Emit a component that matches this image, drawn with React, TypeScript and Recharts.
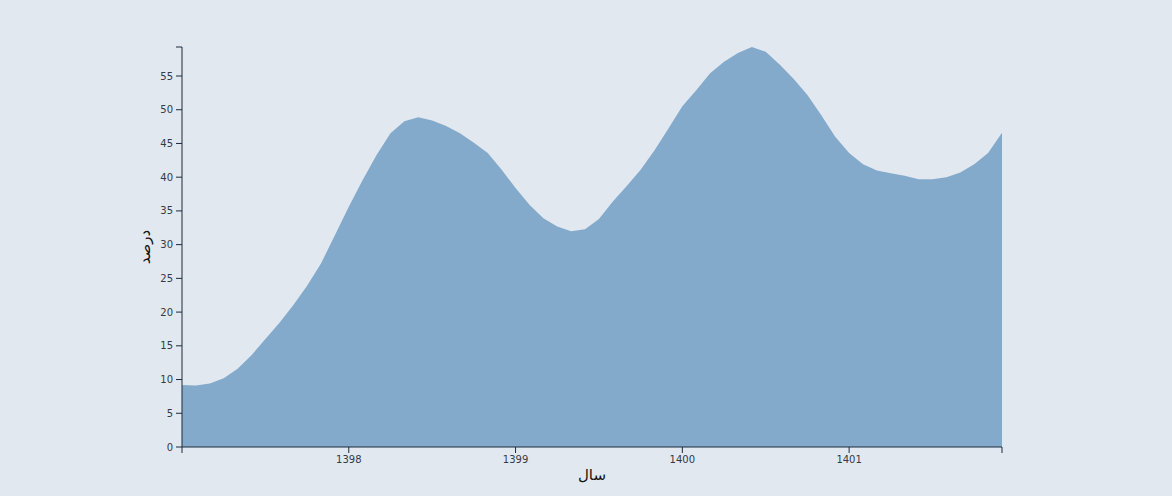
import React from 'react';
import { AreaChart, Area, XAxis, YAxis, Label } from 'recharts';

const years = ['1397', '1398', '1399', '1400', '1401'];
const monthNums = ['01', '02', '03', '04', '05', '06', '07', '08', '09', '10', '11', '12'];
const categories = years.flatMap((y) => monthNums.map((m) => `${y}/${m}`));

const percentValues = [
  9.2, 9.1, 9.4, 10.2, 11.6, 13.6, 16.0, 18.4, 21.0, 23.9, 27.2, 31.4,
  35.6, 39.6, 43.3, 46.5, 48.3, 48.9, 48.4, 47.6, 46.5, 45.1, 43.6, 41.1,
  38.4, 35.9, 33.9, 32.7, 32.0, 32.3, 33.8, 36.4, 38.7, 41.1, 44.0, 47.2,
  50.5, 52.9, 55.4, 57.1, 58.4, 59.3, 58.6, 56.7, 54.6, 52.2, 49.2, 46.0,
  43.6, 41.9, 41.0, 40.6, 40.2, 39.7, 39.7, 40.0, 40.7, 41.9, 43.6, 46.6,
];

const xTickLabels = ['1398', '1399', '1400', '1401'];
const yTickValues = [0, 5, 10, 15, 20, 25, 30, 35, 40, 45, 50, 55];

const xAxisTitle = 'سال';
const yAxisTitle = 'درصد';

const data = categories.map((c, i) => ({ month: c, value: percentValues[i] }));
const maxValue = Math.max(...percentValues);
const xTicks = [categories[0], ...xTickLabels.map((y) => `${y}/01`), categories[categories.length - 1]];
const yTicks = [...yTickValues, maxValue];

const FONT = '"DejaVu Sans", sans-serif';
const AXIS = '#1c2a3c';
const TEXT = '#333a44';

export default function App() {
  return (
    <div style={{ position: 'absolute', left: 0, top: 0, width: 1172, height: 496, background: '#e1e8f0', fontFamily: FONT }}>
      <AreaChart width={1172} height={496} data={data} margin={{ top: 47, right: 170, bottom: 9, left: 122 }}>
        <XAxis
          dataKey="month"
          type="category"
          ticks={xTicks}
          interval={0}
          height={40}
          tickSize={6}
          tickMargin={3}
          axisLine={{ stroke: AXIS, strokeWidth: 1 }}
          tickLine={{ stroke: AXIS, strokeWidth: 1 }}
          tick={{ fill: TEXT, fontSize: 10, fontFamily: FONT }}
          tickFormatter={(v: string) =>
            v === categories[0] || v === categories[categories.length - 1] ? '' : v.split('/')[0]
          }
        >
          <Label
            content={({ viewBox }: any) => (
              <text
                x={viewBox.x + viewBox.width / 2}
                y={viewBox.y + 33}
                textAnchor="middle"
                fontSize={15}
                fontFamily={FONT}
                fill="#111"
              >
                {xAxisTitle}
              </text>
            )}
          />
        </XAxis>
        <YAxis
          type="number"
          domain={[0, maxValue]}
          ticks={yTicks}
          interval={0}
          width={60}
          tickSize={6}
          tickMargin={3}
          axisLine={{ stroke: AXIS, strokeWidth: 1 }}
          tickLine={{ stroke: AXIS, strokeWidth: 1 }}
          tick={{ fill: TEXT, fontSize: 10, fontFamily: FONT }}
          tickFormatter={(v: number) => (yTickValues.includes(v) ? String(v) : '')}
        >
          <Label
            content={({ viewBox }: any) => {
              const cx = viewBox.x + 23;
              const cy = viewBox.y + viewBox.height / 2;
              return (
                <text
                  x={cx}
                  y={cy}
                  textAnchor="middle"
                  dominantBaseline="central"
                  transform={`rotate(-90, ${cx}, ${cy})`}
                  fontSize={15}
                  fontFamily={FONT}
                  fill="#111"
                >
                  {yAxisTitle}
                </text>
              );
            }}
          />
        </YAxis>
        <Area
          type="linear"
          dataKey="value"
          stroke="none"
          fill="#84aacb"
          fillOpacity={1}
          isAnimationActive={false}
          dot={false}
          activeDot={false}
        />
      </AreaChart>
    </div>
  );
}
